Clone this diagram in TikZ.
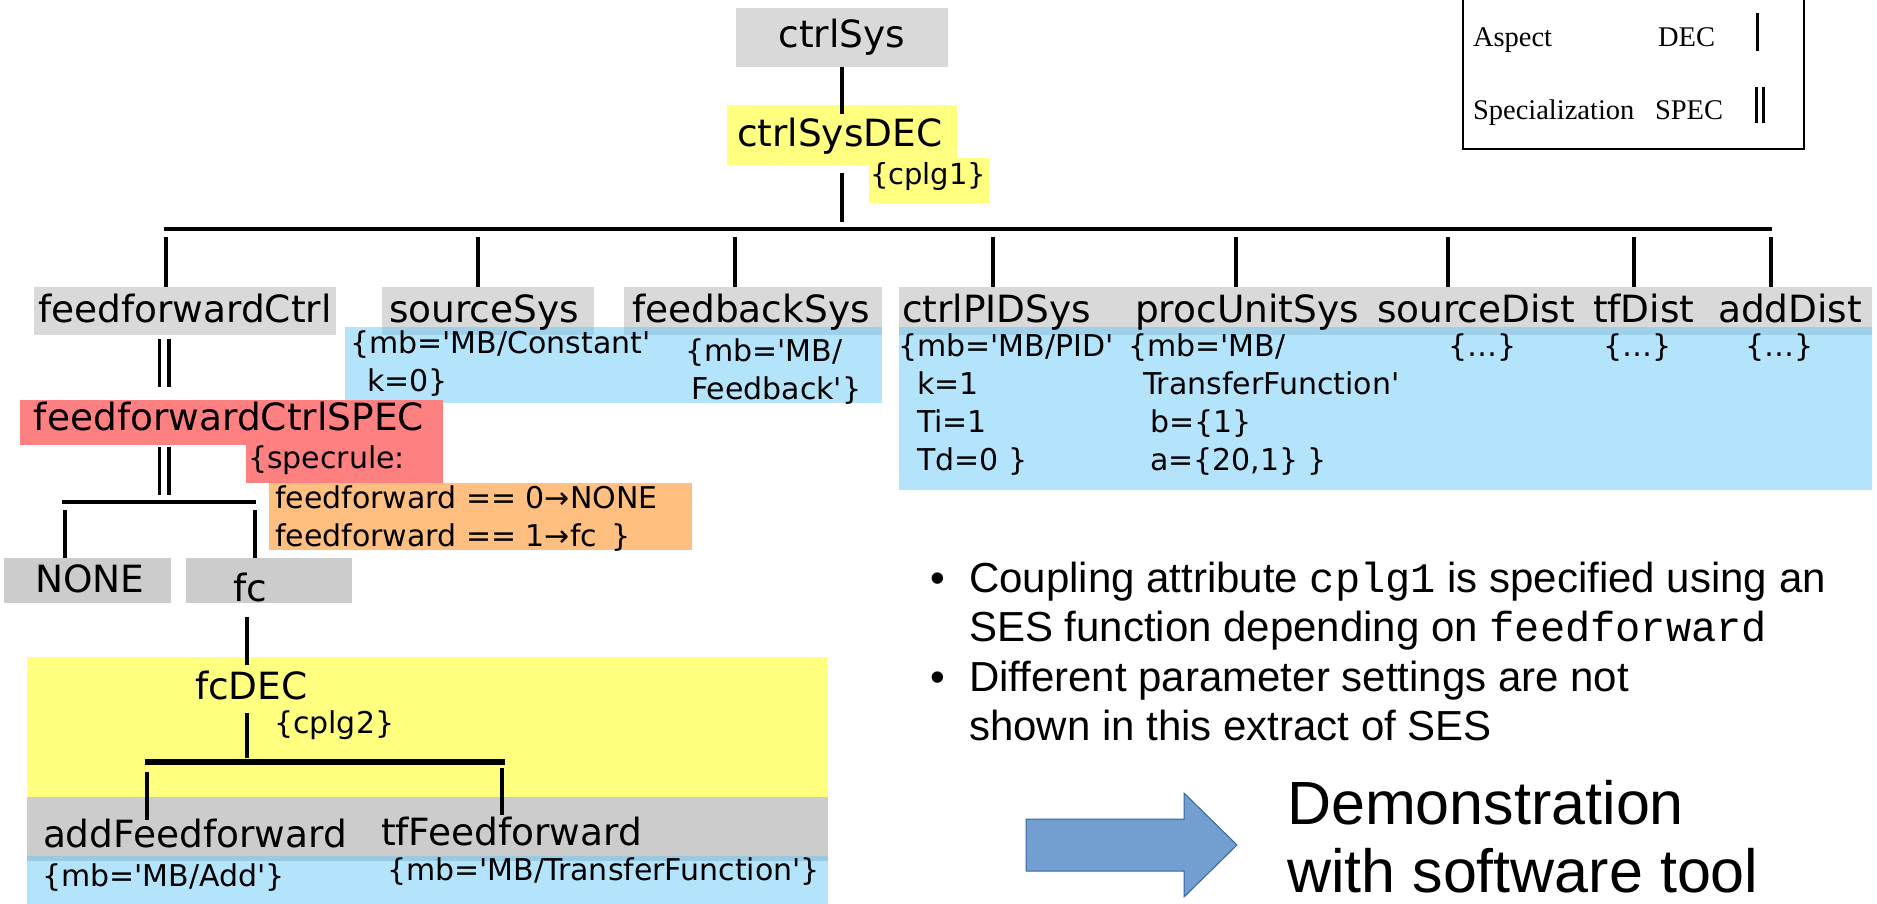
\documentclass[tikz,border=0pt]{standalone}
\usepackage{fontspec}
\setmainfont{DejaVu Sans}[Ligatures=TeXOff]
\newfontfamily\dv{DejaVu Sans}[Ligatures=TeXOff]
\newfontfamily\lsans{Liberation Sans}
\newfontfamily\lserif{Liberation Serif}
\newfontfamily\lmono{Liberation Mono}[Ligatures=TeXOff]

\definecolor{nodegray}{HTML}{D9D9D9}
\definecolor{leafgray}{HTML}{CCCCCC}
\definecolor{decyellow}{HTML}{FFFF80}
\definecolor{specred}{HTML}{FF8080}
\definecolor{ruleorange}{HTML}{FFBF80}
\definecolor{attrblue}{RGB}{103,201,249}
\definecolor{arrowfill}{HTML}{729FCF}
\definecolor{arrowline}{HTML}{3465A4}

% multi-line nodes are placed by the baseline of their last line
\tikzset{
  box/.style={rectangle, inner sep=0pt, outer sep=0pt, anchor=north west, draw=none},
  attrbox/.style={box, fill=attrblue, fill opacity=0.5},
  lbl/.style={inner sep=0pt, outer sep=0pt, anchor=base west, font=\dv\fontsize{37.5}{45}\selectfont},
  attr/.style={inner sep=0pt, outer sep=0pt, anchor=base west, align=left, font=\dv\fontsize{30}{38}\selectfont},
  conn/.style={line width=3.5pt, line cap=butt},
  bus/.style={line width=4.5pt, line cap=butt},
  specbar/.style={double, double distance=6pt, line width=3.5pt, line cap=butt},
  legendtxt/.style={inner sep=0pt, outer sep=0pt, anchor=base west, font=\lserif\fontsize{28.5}{34}\selectfont},
  bullettxt/.style={inner sep=0pt, outer sep=0pt, anchor=base west, align=left, font=\lsans\fontsize{42}{49.5}\selectfont},
}

\begin{document}
\begin{tikzpicture}[x=1pt, y=-1pt]
\useasboundingbox (0,0) rectangle (1877,904);

% ---------- root and its aspect ----------
\node[box, fill=nodegray, minimum width=212, minimum height=59] (ctrlSys) at (736,8) {};
\node[box, fill=decyellow, minimum width=230, minimum height=60] (ctrlSysDEC) at (727,105) {};
\node[box, fill=decyellow, minimum width=120, minimum height=45] (cplg1) at (869,158) {};
\node[lbl, anchor=base] (ctrlSys-t) at (842,48) {ctrlSys};
\node[lbl] (ctrlSysDEC-t) at (737,147) {ctrlSysDEC};
\node[attr, font=\dv\fontsize{29}{36}\selectfont] (cplg1-t) at (870,185) {\{cplg1\}};

% ---------- first-level entities ----------
\node[box, fill=nodegray, minimum width=302, minimum height=48] (ffc) at (34,287) {};
\node[box, fill=nodegray, minimum width=212, minimum height=48] (srcSys) at (382,287) {};
\node[box, fill=nodegray, minimum width=258, minimum height=48] (fbSys) at (624,287) {};
\node[box, fill=nodegray, minimum width=973, minimum height=48] (strip) at (899,287) {};
\node[attrbox, minimum width=537, minimum height=76] (attrA) at (345,327) {};
\node[attrbox, minimum width=973, minimum height=163] (attrB) at (899,327) {};

\node[lbl] (ffc-t) at (38,322) {feedforwardCtrl};
\node[lbl] (srcSys-t) at (389,322) {sourceSys};
\node[lbl] (fbSys-t) at (632,322) {feedbackSys};
\node[lbl] (pidSys-t) at (902,322) {ctrlPIDSys};
\node[lbl] (procSys-t) at (1135,322) {procUnitSys};
\node[lbl] (srcDist-t) at (1377,322) {sourceDist};
\node[lbl] (tfDist-t) at (1593,322) {tfDist};
\node[lbl] (addDist-t) at (1718,322) {addDist};

\node[attr] (srcSys-a) at (350,391) {\{mb='MB/Constant'\\\hspace*{17pt}k=0\}};
\node[attr] (fbSys-a) at (685,399) {\{mb='MB/\\\hspace*{6pt}Feedback'\}};
\node[attr] (pidSys-a) at (898,470) {\{mb='MB/PID'\\\hspace*{19pt}k=1\\\hspace*{19pt}Ti=1\\\hspace*{19pt}Td=0 \}};
\node[attr] (procSys-a) at (1128,470) {\{mb='MB/\\\hspace*{15pt}TransferFunction'\\\hspace*{22pt}b=\{1\}\\\hspace*{22pt}a=\{20,1\} \}};
\node[attr] (srcDist-a) at (1448,356) {\{…\}};
\node[attr] (tfDist-a) at (1603,356) {\{…\}};
\node[attr] (addDist-a) at (1745,356) {\{…\}};

% ---------- connectors of ctrlSysDEC ----------
\draw[conn] (ctrlSys.south) -- ([yshift=-9pt]ctrlSysDEC.north);
\draw[conn] ([yshift=-8pt]ctrlSysDEC.south) -- ([yshift=-57pt]ctrlSysDEC.south);
\coordinate (busL) at (164,229);
\coordinate (busR) at (1772,229);
\draw[bus] (busL) -- (busR);
\coordinate (dA) at (166,237);
\coordinate (dB) at (478,237);
\coordinate (dC) at (735,237);
\coordinate (dD) at (993,237);
\coordinate (dE) at (1236,237);
\coordinate (dF) at (1448,237);
\coordinate (dG) at (1634,237);
\coordinate (dH) at (1771,237);
\draw[conn] (dA) -- (dA |- ffc.north);
\draw[conn] (dB) -- (dB |- srcSys.north);
\draw[conn] (dC) -- (dC |- fbSys.north);
\foreach \d in {dD,dE,dF,dG,dH} \draw[conn] (\d) -- (\d |- strip.north);

% ---------- specialization of feedforwardCtrl ----------
\node[box, fill=specred, minimum width=423, minimum height=45] (spec) at (20,400) {};
\node[box, fill=specred, minimum width=197, minimum height=38] (specrule) at (246,445) {};
\node[box, fill=ruleorange, minimum width=423, minimum height=67] (rules) at (269,483) {};
\node[lbl] (spec-t) at (34,430) {feedforwardCtrlSPEC};
\node[attr] (specrule-t) at (248,468) {\{specrule:};
\node[attr] (rules-t) at (275,546) {feedforward == 0→NONE\\feedforward == 1→fc\hspace*{14pt}\}};

\coordinate (sA) at (164,339);
\coordinate (sB) at (164,447);
\draw[specbar] (sA) -- (sA |- 0,387);
\draw[specbar] (sB) -- (sB |- 0,495);

\coordinate (sbL) at (62,502);
\coordinate (sbR) at (256,502);
\draw[conn] (sbL) -- (sbR);

\node[box, fill=leafgray, minimum width=167, minimum height=45] (none) at (4,558) {};
\node[box, fill=leafgray, minimum width=166, minimum height=45] (fc) at (186,558) {};
\node[lbl, anchor=base] (none-t) at (90,592) {NONE};
\node[lbl, anchor=base] (fc-t) at (250,601) {fc};
\coordinate (nA) at (65,510);
\coordinate (nB) at (255,510);
\draw[conn] (nA) -- (nA |- none.north);
\draw[conn] (nB) -- (nB |- fc.north);

% ---------- aspect of fc ----------
\node[box, fill=decyellow, minimum width=801, minimum height=140] (fcDEC) at (27,657) {};
\node[box, fill=leafgray, minimum width=801, minimum height=64] (leaves) at (27,797) {};
\node[attrbox, minimum width=801, minimum height=54] (leafattr) at (27,856) {};
\node[lbl] (fcDEC-t) at (195,699) {fcDEC};
\node[attr] (cplg2-t) at (274,733) {\{cplg2\}};
\node[lbl] (addFF-t) at (43,847) {addFeedforward};
\node[lbl] (tfFF-t) at (381,845) {tfFeedforward};
\node[attr] (addFF-a) at (42,886) {\{mb='MB/Add'\}};
\node[attr] (tfFF-a) at (387,880) {\{mb='MB/TransferFunction'\}};

\coordinate (fcTop) at (247,617);
\draw[conn] (fcTop) -- ([yshift=-8pt]fcTop |- fcDEC.north);
\coordinate (fcBus) at (247,713);
\draw[conn] (fcBus) -- ++(0,45);
\coordinate (fbL) at (145,762);
\coordinate (fbR) at (505,762);
\draw[line width=5.5pt] (fbL) -- (fbR);
\coordinate (lA) at (147,772);
\coordinate (lB) at (502,768);
\draw[conn] (lA) -- ++(0,48);
\draw[conn] (lB) -- ++(0,47);

% ---------- legend ----------
\draw[line width=2pt] (1463,-2) coordinate (lgTL) -- (1463,149) -- (1804,149) -- (1804,-2);
\node[legendtxt] (lg-asp) at (1473,47) {Aspect};
\node[legendtxt] (lg-dec) at (1658,47) {DEC};
\node[legendtxt] (lg-spc) at (1473,120) {Specialization};
\node[legendtxt] (lg-spec) at (1655,120) {SPEC};
\coordinate (lgA) at (1757,13);
\coordinate (lgB) at (1760,87);
\draw[line width=3pt] (lgA) -- ++(0,38);
\draw[double, double distance=3.5pt, line width=2.8pt] (lgB) -- ++(0,36);

% ---------- remarks ----------
\node[bullettxt] (b1) at (930,592) {•};
\node[bullettxt] (r1) at (969,641.5) {Coupling attribute {\lmono cplg1} is specified using an\\SES function depending on {\lmono feedforward}};
\node[bullettxt] (b2) at (930,691) {•};
\node[bullettxt] (r2) at (969,740.5) {Different parameter settings are not\\shown in this extract of SES};

% ---------- demonstration arrow ----------
\draw[fill=arrowfill, draw=arrowline, line width=1pt, line join=miter]
  (1026,819) -- (1184,819) -- (1184,793) -- (1237,845) -- (1184,897) -- (1184,871) -- (1026,871) -- cycle;
\node[inner sep=0pt, anchor=base west, align=left, font=\lsans\fontsize{61}{68}\selectfont] (demo) at (1287,892) {Demonstration\\with software tool};

\end{tikzpicture}
\end{document}
